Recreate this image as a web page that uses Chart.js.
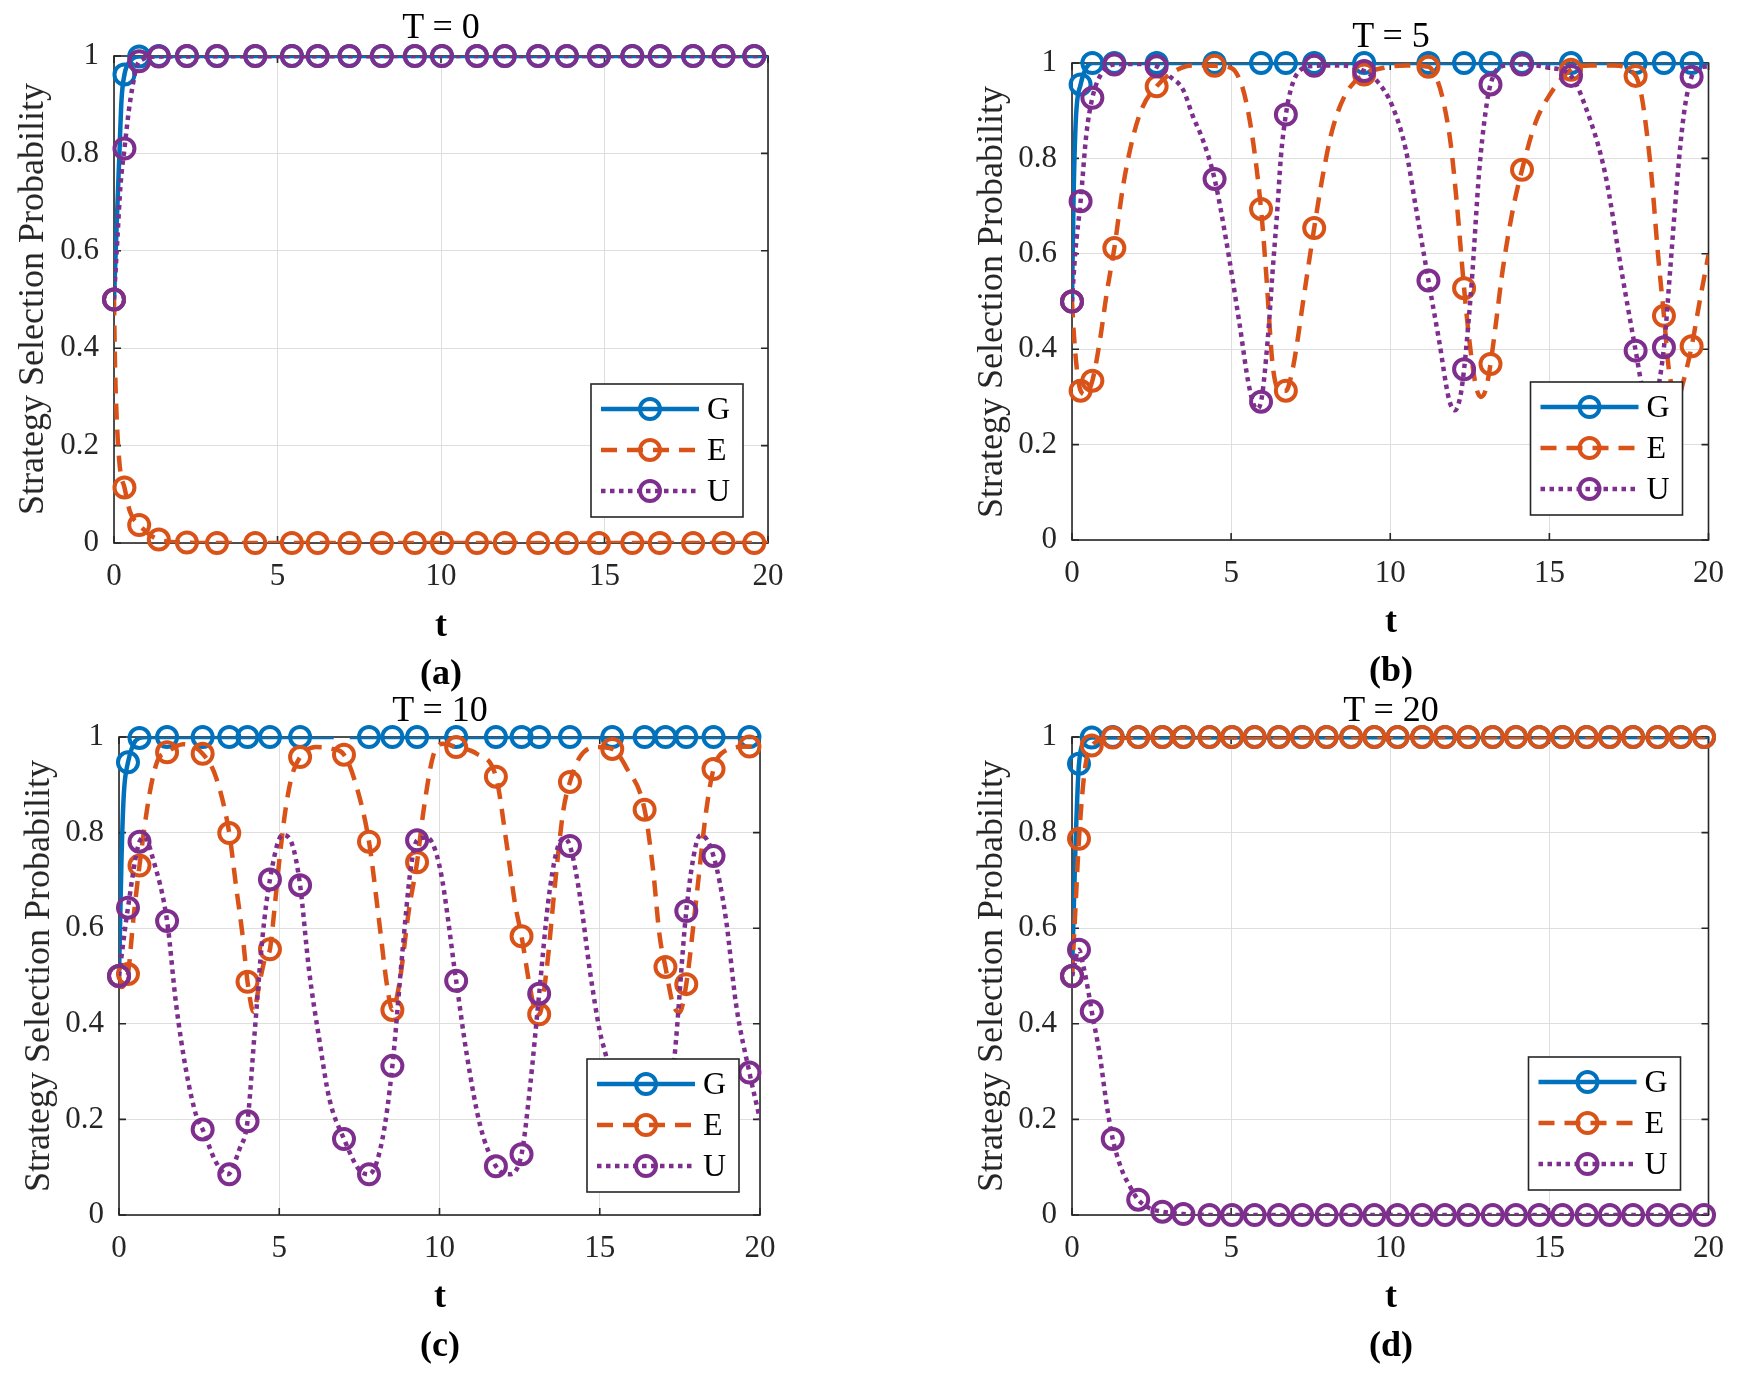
<!DOCTYPE html>
<html>
<head>
<meta charset="utf-8">
<title>Strategy selection probability</title>
<script src="https://cdn.jsdelivr.net/npm/chart.js@4.4.0/dist/chart.umd.min.js"></script>
<style>
  body { margin: 0; background: #fff; }
  #page { position: relative; width: 1739px; height: 1376px; background: #fff;
          font-family: "Liberation Serif", "Times New Roman", serif; color: #000; overflow: hidden; }
  #page canvas { position: absolute; }
  .lbl { position: absolute; transform: translate(-50%, -50%); white-space: nowrap; line-height: 1; }
  .ttl { font-size: 36px; }
  .xl  { font-size: 36px; font-weight: bold; }
  .tag { font-size: 36px; font-weight: bold; }
  .yl  { font-size: 36px; color: #262626; transform: translate(-50%, -50%) rotate(-90deg); }
</style>
</head>
<body>
<div id="page">
  <canvas id="chartA" width="870" height="690" style="left:0;top:0"></canvas>
  <canvas id="chartB" width="869" height="690" style="left:870px;top:0"></canvas>
  <canvas id="chartC" width="870" height="686" style="left:0;top:690px"></canvas>
  <canvas id="chartD" width="869" height="686" style="left:870px;top:690px"></canvas>

  <div class="lbl ttl" style="left:441px;top:26px">T = 0</div>
  <div class="lbl yl"  style="left:31px;top:299px">Strategy Selection Probability</div>
  <div class="lbl xl"  style="left:441px;top:624px">t</div>
  <div class="lbl tag" style="left:441px;top:672px">(a)</div>

  <div class="lbl ttl" style="left:1391px;top:35px">T = 5</div>
  <div class="lbl yl"  style="left:990px;top:302px">Strategy Selection Probability</div>
  <div class="lbl xl"  style="left:1391px;top:620px">t</div>
  <div class="lbl tag" style="left:1391px;top:669px">(b)</div>

  <div class="lbl ttl" style="left:440px;top:709px">T = 10</div>
  <div class="lbl yl"  style="left:37px;top:976px">Strategy Selection Probability</div>
  <div class="lbl xl"  style="left:440px;top:1295px">t</div>
  <div class="lbl tag" style="left:440px;top:1344px">(c)</div>

  <div class="lbl ttl" style="left:1391px;top:709px">T = 20</div>
  <div class="lbl yl"  style="left:990px;top:976px">Strategy Selection Probability</div>
  <div class="lbl xl"  style="left:1391px;top:1295px">t</div>
  <div class="lbl tag" style="left:1391px;top:1344px">(d)</div>
</div>

<script>
// axis ticks and series
const xTicks = [0, 5, 10, 15, 20];
const yTicks = [0, 0.2, 0.4, 0.6, 0.8, 1];
const seriesNames = ['G', 'E', 'U'];
const seriesColors = ['#0072BD', '#D95319', '#7E2F8E'];

// (a) T = 0 : marker points (solver steps)
const aMarkT = [0, 0.32, 0.77, 1.37, 2.23, 3.15, 4.32, 5.44, 6.23, 7.2, 8.19, 9.2, 10.03, 11.1, 11.95, 12.97, 13.85, 14.83, 15.85, 16.69, 17.71, 18.64, 19.58];
const aMarkG = [0.5, 0.962, 0.999, 1, 1, 1, 1, 1, 1, 1, 1, 1, 1, 1, 1, 1, 1, 1, 1, 1, 1, 1, 1];
const aMarkE = [0.5, 0.114, 0.037, 0.007, 0.001, 0, 0, 0, 0, 0, 0, 0, 0, 0, 0, 0, 0, 0, 0, 0, 0, 0, 0];
const aMarkU = [0.5, 0.81, 0.989, 0.999, 1, 1, 1, 1, 1, 1, 1, 1, 1, 1, 1, 1, 1, 1, 1, 1, 1, 1, 1];
// (a) curves
const aLineGT = [0, 0.08, 0.16, 0.23, 0.32, 0.5, 0.77, 1.37, 20];
const aLineG  = [0.5, 0.65, 0.79, 0.91, 0.962, 0.99, 0.999, 1, 1];
const aLineET = [0, 0.03, 0.08, 0.18, 0.32, 0.49, 0.77, 1.37, 2.23, 3.15, 20];
const aLineE  = [0.5, 0.37, 0.26, 0.155, 0.114, 0.064, 0.037, 0.007, 0.001, 0, 0];
const aLineUT = [0, 0.1, 0.2, 0.32, 0.5, 0.77, 1.37, 20];
const aLineU  = [0.5, 0.62, 0.735, 0.81, 0.91, 0.989, 0.999, 1];

// (b) T = 5
const bMarkT = [0, 0.27, 0.64, 1.33, 2.66, 4.48, 5.94, 6.72, 7.61, 9.18, 11.2, 12.32, 13.15, 14.14, 15.68, 17.71, 18.6, 19.47];
const bMarkG = [0.5, 0.955, 1, 1, 1, 1, 1, 1, 1, 1, 1, 1, 1, 1, 1, 1, 1, 1];
const bMarkE = [0.5, 0.313, 0.334, 0.612, 0.951, 0.994, 0.694, 0.313, 0.654, 0.976, 0.992, 0.528, 0.369, 0.776, 0.986, 0.973, 0.47, 0.406];
const bMarkU = [0.5, 0.71, 0.927, 0.997, 0.993, 0.757, 0.29, 0.892, 0.994, 0.983, 0.544, 0.358, 0.955, 0.997, 0.973, 0.397, 0.404, 0.971];
const bLineGT = [0, 0.05, 0.12, 0.27, 0.45, 0.64, 20];
const bLineG  = [0.5, 0.72, 0.88, 0.955, 0.99, 1, 1];
const bLineET = [0, 0.05, 0.15, 0.27, 0.42, 0.64, 0.88, 1.09, 1.33, 1.6, 1.9, 2.2, 2.66, 3.2, 3.8, 4.48,
                 5.0, 5.3, 5.5, 5.7, 5.94, 6.1, 6.3, 6.5, 6.72, 6.93, 7.09, 7.24, 7.61, 7.87, 8.18, 8.6, 9.18,
                 9.8, 10.5, 11.2, 11.5, 11.7, 11.9, 12.1, 12.32, 12.5, 12.7, 12.85, 13.0, 13.15, 13.35, 13.52,
                 13.83, 14.14, 14.56, 14.98, 15.68, 16.3, 17.0, 17.71, 17.9, 18.05, 18.2, 18.42, 18.6, 18.75,
                 18.9, 19.05, 19.2, 19.47, 19.73, 20];
const bLineE  = [0.5, 0.44, 0.36, 0.313, 0.305, 0.334, 0.42, 0.517, 0.612, 0.74, 0.84, 0.905, 0.951, 0.982, 0.995, 0.994,
                 0.99, 0.96, 0.91, 0.83, 0.694, 0.56, 0.37, 0.315, 0.313, 0.357, 0.42, 0.49, 0.654, 0.76, 0.86, 0.935, 0.976,
                 0.99, 0.995, 0.992, 0.96, 0.91, 0.83, 0.70, 0.528, 0.41, 0.32, 0.30, 0.315, 0.369, 0.47, 0.56,
                 0.685, 0.776, 0.874, 0.93, 0.986, 0.995, 0.995, 0.973, 0.93, 0.86, 0.77, 0.594, 0.47, 0.36,
                 0.31, 0.30, 0.33, 0.406, 0.503, 0.598];
const bLineUT = [0, 0.1, 0.27, 0.45, 0.64, 0.9, 1.33, 2.0, 2.66, 3.07, 3.49, 3.8, 4.11, 4.48, 4.84, 5.26, 5.57,
                 5.8, 5.94, 6.15, 6.3, 6.46, 6.56, 6.72, 6.9, 7.14, 7.61, 8.4, 9.18, 9.64, 10.07, 10.49, 10.8,
                 11.2, 11.53, 11.85, 12.03, 12.2, 12.32, 12.45, 12.58, 12.79, 13.0, 13.15, 13.5, 14.14, 15.0,
                 15.68, 16.13, 16.75, 17.28, 17.71, 17.95, 18.15, 18.35, 18.6, 18.8, 18.95, 19.12, 19.26, 19.47, 19.7, 20];
const bLineU  = [0.5, 0.6, 0.71, 0.85, 0.927, 0.975, 0.997, 0.998, 0.993, 0.972, 0.944, 0.888, 0.839, 0.757, 0.63, 0.455, 0.32,
                 0.275, 0.29, 0.42, 0.56, 0.70, 0.80, 0.892, 0.95, 0.983, 0.994, 0.995, 0.983, 0.958, 0.909, 0.818, 0.699,
                 0.544, 0.42, 0.294, 0.272, 0.30, 0.358, 0.45, 0.559, 0.769, 0.9, 0.955, 0.993, 0.997, 0.99,
                 0.973, 0.909, 0.769, 0.559, 0.397, 0.31, 0.28, 0.3, 0.404, 0.57, 0.70, 0.83, 0.909, 0.971, 0.99, 0.993];

// (c) T = 10  (G has a break near t = 7 in the original)
const cMarkT = [0, 0.28, 0.64, 1.5, 2.61, 3.44, 4.01, 4.71, 5.65, 7.02, 7.8, 8.53, 9.3, 10.52, 11.76, 12.56, 13.11, 14.07, 15.39, 16.4, 17.05, 17.7, 18.55, 19.67];
const cMarkG = [0.5, 0.947, 0.998, 1, 1, 1, 1, 1, 1, null, 1, 1, 1, 1, 1, 1, 1, 1, 1, 1, 1, 1, 1, 1];
const cMarkE = [0.5, 0.504, 0.731, 0.968, 0.965, 0.799, 0.488, 0.556, 0.958, 0.963, 0.781, 0.429, 0.738, 0.979, 0.917, 0.583, 0.42, 0.906, 0.975, 0.848, 0.519, 0.483, 0.933, 0.98];
const cMarkU = [0.5, 0.643, 0.781, 0.615, 0.179, 0.085, 0.196, 0.702, 0.69, 0.159, 0.085, 0.312, 0.784, 0.49, 0.102, 0.127, 0.463, 0.772, 0.27, 0.085, 0.18, 0.636, 0.751, 0.298];
const cLineGT = [0, 0.08, 0.15, 0.28, 0.45, 0.64, 0.9, 6.7, 6.95, 7.2, 20];
const cLineG  = [0.5, 0.75, 0.88, 0.947, 0.985, 0.998, 1, 1, null, 1, 1];
const cLineET = [0, 0.07, 0.15, 0.28, 0.45, 0.64, 0.95, 1.2, 1.5, 2.0, 2.61, 3.03, 3.44, 3.65, 3.86, 4.01, 4.2, 4.37,
                 4.55, 4.71, 4.85, 5.0, 5.2, 5.4, 5.65, 6.14, 6.66, 7.02, 7.39, 7.8, 8.11, 8.37, 8.53, 8.73, 9.05,
                 9.3, 9.5, 9.8, 10.12, 10.52, 11.16, 11.76, 12.1, 12.35, 12.56, 12.82, 12.98, 13.11, 13.34, 13.6,
                 13.86, 14.07, 14.38, 14.9, 15.39, 15.83, 16.4, 16.66, 16.87, 17.05, 17.28, 17.49, 17.7, 18.0,
                 18.32, 18.55, 18.84, 19.67, 20];
const cLineE  = [0.5, 0.477, 0.48, 0.504, 0.62, 0.731, 0.88, 0.95, 0.968, 0.985, 0.965, 0.915, 0.799, 0.689, 0.583, 0.488, 0.425, 0.48,
                 0.535, 0.556, 0.64, 0.74, 0.85, 0.92, 0.958, 0.979, 0.975, 0.963, 0.901, 0.781, 0.618, 0.477, 0.429, 0.477, 0.64,
                 0.738, 0.845, 0.96, 0.986, 0.979, 0.965, 0.917, 0.774, 0.654, 0.583, 0.477, 0.428, 0.42, 0.512, 0.689,
                 0.845, 0.906, 0.958, 0.979, 0.975, 0.936, 0.848, 0.724, 0.583, 0.519, 0.442, 0.424, 0.483, 0.654,
                 0.845, 0.933, 0.968, 0.98, 0.98];
const cLineUT = [0, 0.28, 0.64, 0.8, 1.06, 1.5, 1.78, 2.1, 2.41, 2.61, 3.03, 3.39, 3.76, 4.01, 4.22, 4.48, 4.71,
                 5.1, 5.41, 5.65, 5.93, 6.24, 6.56, 7.02, 7.49, 7.8, 8.22, 8.53, 8.84, 9.1, 9.3, 9.6, 10.02,
                 10.52, 10.85, 11.27, 11.76, 12.15, 12.56, 12.82, 13.11, 13.39, 13.65, 13.86, 14.07, 14.38, 14.69,
                 15.0, 15.21, 15.39, 15.8, 16.4, 16.8, 17.05, 17.33, 17.7, 18.0, 18.16, 18.55, 18.94, 19.25, 19.67, 20];
const cLineU  = [0.5, 0.643, 0.781, 0.79, 0.745, 0.615, 0.442, 0.3, 0.208, 0.179, 0.11, 0.085, 0.138, 0.196, 0.371, 0.583, 0.702,
                 0.795, 0.774, 0.69, 0.512, 0.371, 0.244, 0.159, 0.095, 0.085, 0.159, 0.312, 0.548, 0.724, 0.784, 0.79, 0.724,
                 0.49, 0.336, 0.187, 0.102, 0.085, 0.127, 0.265, 0.463, 0.654, 0.76, 0.788, 0.772, 0.668, 0.512,
                 0.385, 0.329, 0.27, 0.15, 0.085, 0.11, 0.18, 0.329, 0.636, 0.774, 0.795, 0.751, 0.618, 0.442, 0.298, 0.2];

// (d) T = 20
const dMarkT = [0, 0.22, 0.62, 1.28, 2.08, 2.84, 3.5, 4.32, 5.03, 5.74, 6.5, 7.23, 8.0, 8.77, 9.5, 10.23, 11.0, 11.72, 12.45, 13.22, 13.95, 14.68, 15.41, 16.17, 16.9, 17.63, 18.4, 19.13, 19.86];
const dMarkG = [0.5, 0.944, 0.999, 1, 1, 1, 1, 1, 1, 1, 1, 1, 1, 1, 1, 1, 1, 1, 1, 1, 1, 1, 1, 1, 1, 1, 1, 1, 1];
const dMarkE = [0.5, 0.787, 0.982, 0.999, 1, 1, 1, 1, 1, 1, 1, 1, 1, 1, 1, 1, 1, 1, 1, 1, 1, 1, 1, 1, 1, 1, 1, 1, 1];
const dMarkU = [0.5, 0.555, 0.426, 0.159, 0.032, 0.007, 0.002, 0, 0, 0, 0, 0, 0, 0, 0, 0, 0, 0, 0, 0, 0, 0, 0, 0, 0, 0, 0, 0, 0];
const dLineGT = [0, 0.1, 0.22, 0.4, 0.62, 20];
const dLineG  = [0.5, 0.75, 0.944, 0.99, 0.999, 1];
const dLineET = [0, 0.1, 0.22, 0.4, 0.62, 1.28, 20];
const dLineE  = [0.5, 0.63, 0.787, 0.93, 0.982, 0.999, 1];
const dLineUT = [0, 0.22, 0.35, 0.5, 0.62, 0.87, 1.08, 1.28, 1.55, 1.81, 2.08, 2.44, 2.84, 3.5, 5.03, 20];
const dLineU  = [0.5, 0.555, 0.523, 0.473, 0.426, 0.336, 0.235, 0.159, 0.097, 0.061, 0.032, 0.014, 0.007, 0.002, 0, 0];

const fontFamily = '"Liberation Serif", "Times New Roman", serif';
const axisColor = '#262626';
const lineDash = [[], [16, 10], [4.5, 4.5]];
const lineWidth = 4.5;
const markerRadius = 10;
const markerStroke = 4;
const yAxisWidth = 95;   // room for the y tick labels
const xAxisHeight = 70;  // room for the x tick labels

function pts(ts, ys) {
  return ts.map((t, i) => ({ x: t, y: ys[i] }));
}

// Box with inward tick marks (MATLAB style), drawn under the data
const axesBox = {
  id: 'axesBox',
  beforeDatasetsDraw(chart) {
    const { ctx, chartArea: a, scales } = chart;
    const len = 7;
    ctx.save();
    ctx.strokeStyle = axisColor;
    ctx.lineWidth = 1.6;
    ctx.strokeRect(a.left, a.top, a.right - a.left, a.bottom - a.top);
    ctx.beginPath();
    xTicks.forEach(v => {
      const px = scales.x.getPixelForValue(v);
      ctx.moveTo(px, a.bottom); ctx.lineTo(px, a.bottom - len);
      ctx.moveTo(px, a.top); ctx.lineTo(px, a.top + len);
    });
    yTicks.forEach(v => {
      const py = scales.y.getPixelForValue(v);
      ctx.moveTo(a.left, py); ctx.lineTo(a.left + len, py);
      ctx.moveTo(a.right, py); ctx.lineTo(a.right - len, py);
    });
    ctx.stroke();
    ctx.restore();
  }
};

// Legend box with line + circle marker samples
const matLegend = {
  id: 'matLegend',
  afterDatasetsDraw(chart, args, opts) {
    const { ctx, chartArea: a } = chart;
    const w = 152, h = 133;
    const x0 = a.right - opts.right - w;
    const y0 = a.bottom - opts.bottom - h;
    ctx.save();
    ctx.fillStyle = '#fff';
    ctx.fillRect(x0, y0, w, h);
    ctx.strokeStyle = axisColor;
    ctx.lineWidth = 1.6;
    ctx.strokeRect(x0, y0, w, h);
    seriesNames.forEach((name, i) => {
      const y = y0 + 25 + i * 41;
      ctx.strokeStyle = seriesColors[i];
      ctx.lineWidth = lineWidth;
      ctx.setLineDash(lineDash[i]);
      ctx.beginPath();
      ctx.moveTo(x0 + 10, y);
      ctx.lineTo(x0 + 108, y);
      ctx.stroke();
      ctx.setLineDash([]);
      ctx.lineWidth = markerStroke;
      ctx.beginPath();
      ctx.arc(x0 + 59, y, markerRadius, 0, Math.PI * 2);
      ctx.stroke();
      ctx.fillStyle = '#000';
      ctx.font = '32px ' + fontFamily;
      ctx.textAlign = 'left';
      ctx.textBaseline = 'middle';
      ctx.fillText(name, x0 + 116, y + 2);
    });
    ctx.restore();
  }
};

function makeChart(canvasId, area, legendGap, markT, marks, lineTs, lines) {
  const datasets = [];
  seriesNames.forEach((name, i) => {
    datasets.push({
      label: name,
      data: pts(lineTs[i], lines[i]),
      borderColor: seriesColors[i],
      borderWidth: lineWidth,
      borderDash: lineDash[i],
      borderCapStyle: 'butt',
      pointRadius: 0,
      cubicInterpolationMode: 'monotone',
      spanGaps: false,
      fill: false,
      order: 6 - 2 * i
    });
    datasets.push({
      label: name + ' markers',
      data: pts(markT, marks[i]),
      showLine: false,
      pointStyle: 'circle',
      pointRadius: markerRadius,
      pointBorderWidth: markerStroke,
      pointBorderColor: seriesColors[i],
      pointBackgroundColor: 'rgba(0,0,0,0)',
      clip: false,
      order: 5 - 2 * i
    });
  });

  const tickFont = { family: fontFamily, size: 31 };
  return new Chart(document.getElementById(canvasId), {
    type: 'line',
    data: { datasets: datasets },
    options: {
      responsive: false,
      animation: false,
      devicePixelRatio: 1,
      layout: {
        padding: {
          left: area.left - yAxisWidth,
          right: area.right,
          top: area.top,
          bottom: area.bottom - xAxisHeight
        }
      },
      plugins: {
        legend: { display: false },
        tooltip: { enabled: false },
        matLegend: legendGap
      },
      scales: {
        x: {
          type: 'linear',
          min: 0,
          max: 20,
          afterBuildTicks: s => { s.ticks = xTicks.map(v => ({ value: v })); },
          afterFit: s => { s.height = xAxisHeight; },
          grid: { color: '#dedede', lineWidth: 1, drawTicks: false },
          border: { display: false },
          ticks: { padding: 15, color: axisColor, font: tickFont, maxRotation: 0, autoSkip: false,
                   callback: v => String(v) }
        },
        y: {
          type: 'linear',
          min: 0,
          max: 1,
          afterBuildTicks: s => { s.ticks = yTicks.map(v => ({ value: v })); },
          afterFit: s => { s.width = yAxisWidth; },
          grid: { color: '#dedede', lineWidth: 1, drawTicks: false },
          border: { display: false },
          ticks: { padding: 15, color: axisColor, font: tickFont, autoSkip: false,
                   callback: v => String(v) }
        }
      }
    },
    plugins: [axesBox, matLegend]
  });
}

document.addEventListener('DOMContentLoaded', function() {
  makeChart('chartA', { left: 114, right: 102, top: 56, bottom: 147 }, { right: 25, bottom: 26 },
    aMarkT, [aMarkG, aMarkE, aMarkU], [aLineGT, aLineET, aLineUT], [aLineG, aLineE, aLineU]);
  makeChart('chartB', { left: 202, right: 28, top: 63, bottom: 150 }, { right: 26, bottom: 25 },
    bMarkT, [bMarkG, bMarkE, bMarkU], [bLineGT, bLineET, bLineUT], [bLineG, bLineE, bLineU]);
  makeChart('chartC', { left: 119, right: 110, top: 47, bottom: 161 }, { right: 21, bottom: 23 },
    cMarkT, [cMarkG, cMarkE, cMarkU], [cLineGT, cLineET, cLineUT], [cLineG, cLineE, cLineU]);
  makeChart('chartD', { left: 202, right: 28, top: 47, bottom: 161 }, { right: 28, bottom: 25 },
    dMarkT, [dMarkG, dMarkE, dMarkU], [dLineGT, dLineET, dLineUT], [dLineG, dLineE, dLineU]);
});
</script>
</body>
</html>
